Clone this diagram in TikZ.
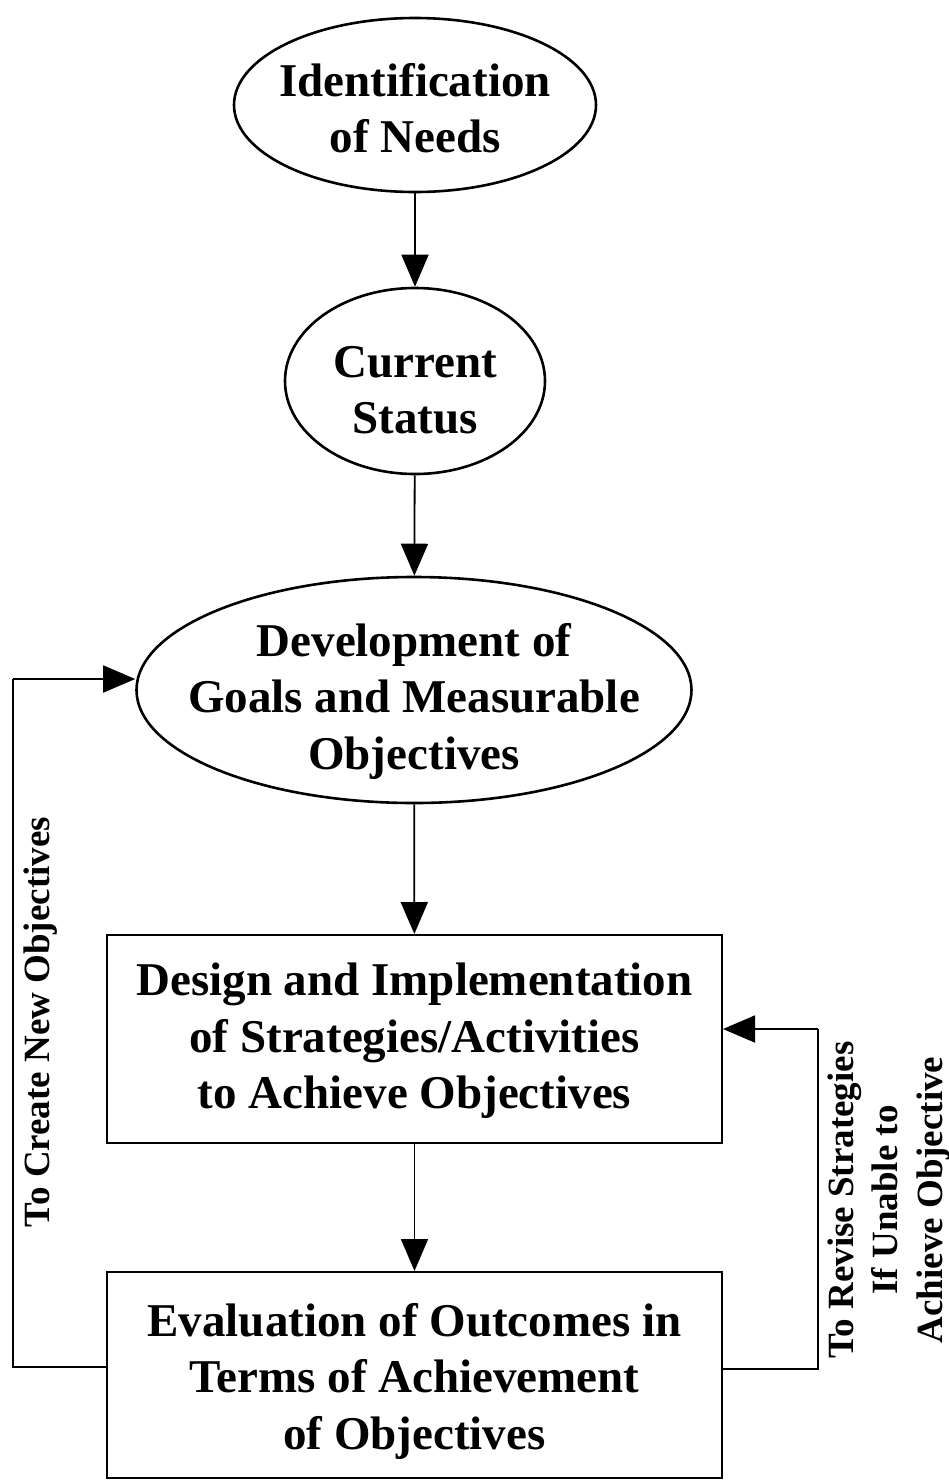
\documentclass[tikz,border=0pt]{standalone}
\usepackage{fontspec}
\setmainfont{Liberation Serif}
\usetikzlibrary{shapes.geometric,arrows.meta}
\begin{document}
\begin{tikzpicture}[x=1pt,y=-1pt,
  lbl/.style={font=\bfseries\fontsize{47}{56.5}\selectfont, align=center, inner sep=0pt},
  oval/.style={ellipse, draw, line width=2.6pt, inner sep=0pt},
  panel/.style={rectangle, draw, line width=2pt, inner sep=0pt},
  side/.style={font=\bfseries\fontsize{37}{44.5}\selectfont, align=center, inner sep=0pt, rotate=90},
  arr/.style={line width=1.8pt, -{Triangle[length=32pt,width=27pt]}},
  loop/.style={line width=1.8pt}]
\useasboundingbox (0,0) rectangle (949,1481);

% process stages: outlines
\node[oval, minimum width=362pt, minimum height=174pt] (e1) at (415,105) {};
\node[oval, minimum width=260pt, minimum height=186pt] (e2) at (415,381) {};
\node[oval, minimum width=555pt, minimum height=226pt] (e3) at (414,690) {};
\node[panel, minimum width=615pt, minimum height=208pt] (b1) at (414.5,1039) {};
\node[panel, minimum width=615pt, minimum height=206pt] (b2) at (414.5,1375) {};

% process stages: texts
\node[lbl] (t1) at (415,108) {Identification\\of Needs};
\node[lbl] (t2) at (415,390) {Current\\Status};
\node[lbl] (t3) at (414,701) {Development of\\Goals and Measurable\\Objectives};
\node[lbl] (t4) at (414.5,1041) {Design and Implementation\\of Strategies/Activities\\to Achieve Objectives};
\node[lbl] (t5) at (414.5,1381) {Evaluation of Outcomes in\\Terms of Achievement\\of Objectives};

% forward flow
\draw[arr] (e1) -- (e2);
\draw[arr] (e2) -- (e3);
\draw[arr] (e3) -- (b1);
\draw[arr] (b1) -- (b2);

% feedback loops
\coordinate (lc1) at (13,1367);
\coordinate (lc2) at (13,679);
\draw[loop] (b2.west |- lc1) -- (lc1) -- (lc2);
\draw[arr] (lc2) -- (e3.west |- lc2);

\coordinate (rc1) at (818,1369);
\coordinate (rc2) at (818,1029);
\draw[loop] (b2.east |- rc1) -- (rc1) -- (rc2);
\draw[arr] (rc2) -- (b1.east |- rc2);

% loop labels
\node[side] (tl) at (41,1022) {To Create New Objectives};
\node[side] (tr) at (889,1200) {To Revise Strategies\\If Unable to\\Achieve Objective};
\end{tikzpicture}
\end{document}
